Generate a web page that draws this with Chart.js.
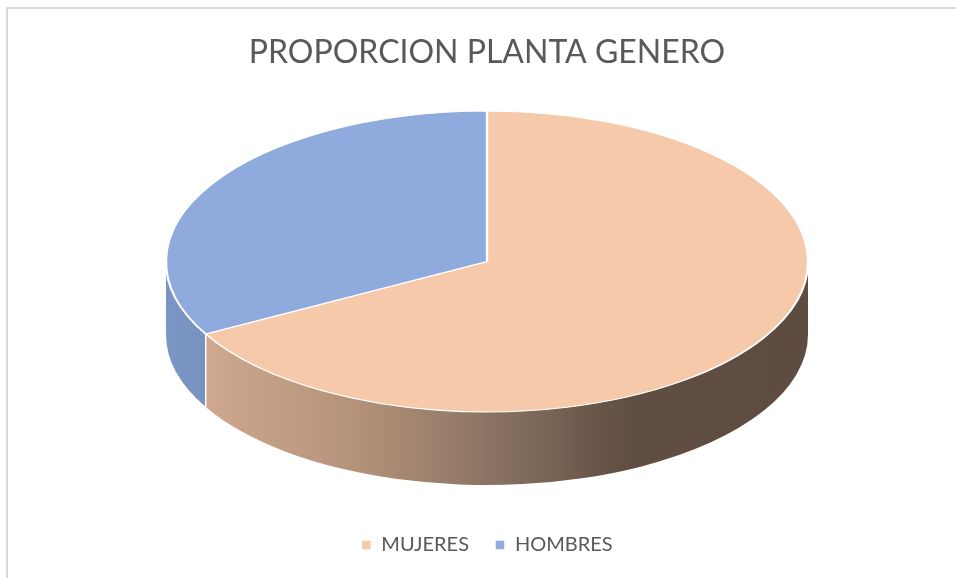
<!DOCTYPE html>
<html><head><meta charset="utf-8">
<script src="https://cdn.jsdelivr.net/npm/chart.js@4.4.1/dist/chart.umd.min.js"></script>
<style>
html,body{margin:0;padding:0;background:#fff;overflow:hidden;}
#wrap{position:relative;width:956px;height:578px;overflow:hidden;}
#frame{position:absolute;left:6px;top:7px;width:1000px;height:1000px;border:2px solid #d9d9d9;box-sizing:border-box;pointer-events:none;}
canvas{position:absolute;left:0;top:0;}
</style></head><body>
<div id="wrap"><canvas id="c" width="956" height="578"></canvas><div id="frame"></div></div>
<script>
// ---- data ----
const categories = ['MUJERES', 'HOMBRES'];
const values = [67, 33];
const chartTitle = 'PROPORCION PLANTA GENERO';

// ---- styles ----
const topColors = ['#F5C9A9', '#8FAADC'];
const sideStops = [
  [[0, '#D6B197'], [0.07, '#CDA78E'], [0.3, '#B49279'], [0.5, '#8C7464'], [0.72, '#604E42'], [1, '#5E4C40']],
  [[0, '#7B95C4'], [0.1, '#7690BE'], [1, '#6A84B2']]
];
const RX = 321, RY = 150.5, DEPTH = 73; // projected ellipse radii and extrusion depth (px)

const pie3d = {
  id: 'pie3d',
  beforeDatasetsDraw(chart) {
    const ctx = chart.ctx;
    const arcs = chart.getDatasetMeta(0).data;
    ctx.save();
    if (!arcs.length) return;
    const cx = arcs[0].x, cyMid = arcs[0].y;
    const cy = cyMid - DEPTH / 2;
    const r = arcs[0].outerRadius;
    // side walls
    arcs.forEach((arc, i) => {
      const g = ctx.createLinearGradient(cx - RX, 0, cx + RX, 0);
      sideStops[i % sideStops.length].forEach(s => g.addColorStop(s[0], s[1]));
      for (let k = -1; k <= 1; k++) {
        const lo = Math.max(arc.startAngle, k * 2 * Math.PI);
        const hi = Math.min(arc.endAngle, k * 2 * Math.PI + Math.PI);
        if (hi <= lo) continue;
        ctx.beginPath();
        ctx.ellipse(cx, cy, RX, RY, 0, lo, hi, false);
        ctx.ellipse(cx, cy + DEPTH, RX, RY, 0, hi, lo, true);
        ctx.closePath();
        ctx.fillStyle = g;
        ctx.fill();
      }
    });
    ctx.strokeStyle = '#ffffff';
    ctx.lineWidth = 1.5;
    arcs.forEach(arc => {
      const a = arc.startAngle;
      if (Math.sin(a) > 0.001) {
        const x = cx + RX * Math.cos(a), y = cy + RY * Math.sin(a);
        ctx.beginPath(); ctx.moveTo(x, y); ctx.lineTo(x, y + DEPTH); ctx.stroke();
      }
    });
    // project the library's circular pie onto the tilted top face
    ctx.translate(cx, cy);
    ctx.scale(RX / r, RY / r);
    ctx.translate(-cx, -cyMid);
  },
  afterDatasetsDraw(chart) { chart.ctx.restore(); }
};

new Chart(document.getElementById('c'), {
  type: 'pie',
  data: {
    labels: categories,
    datasets: [{ data: values, backgroundColor: topColors, borderColor: '#ffffff', borderWidth: 1.5 }]
  },
  options: {
    responsive: false,
    animation: false,
    layout: { padding: { left: 18, right: 0, top: 0, bottom: 13 } },
    plugins: {
      title: {
        display: true, text: chartTitle, color: '#595959',
        font: { family: 'Lato', size: 32, weight: 'normal' },
        padding: { top: 33, bottom: 15.6 }
      },
      legend: {
        position: 'bottom',
        labels: { color: '#595959', font: { family: 'Lato', size: 20 }, boxWidth: 10, boxHeight: 10, padding: 26 }
      },
      tooltip: { enabled: false }
    }
  },
  plugins: [pie3d]
});
</script>
</body></html>
